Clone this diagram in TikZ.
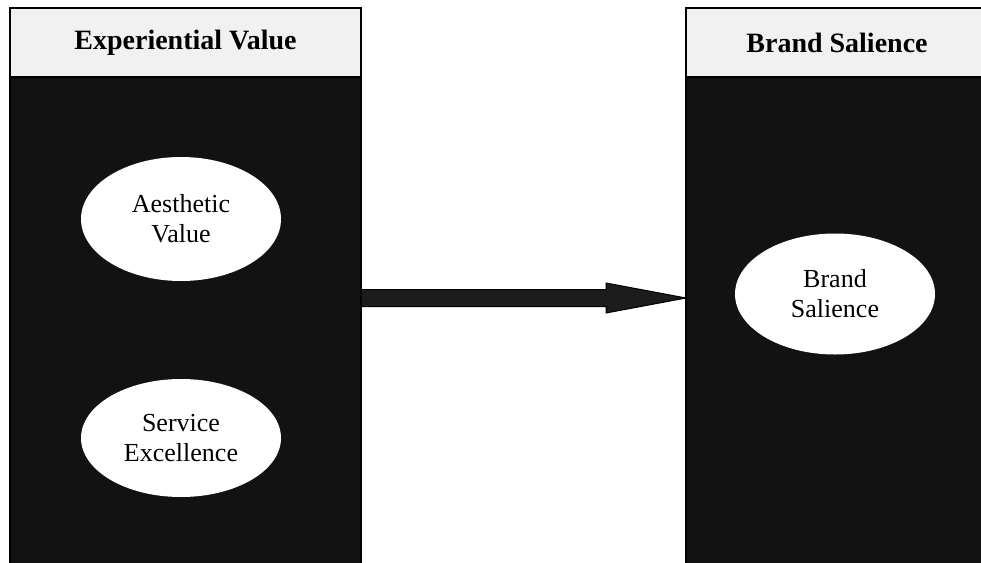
\documentclass[tikz,border=0pt]{standalone}
\usepackage{fontspec}
\setmainfont{Liberation Serif}
\usetikzlibrary{shapes.geometric,calc}
\definecolor{panel}{HTML}{121212}
\definecolor{headfill}{HTML}{F1F1F1}
\definecolor{shaft}{HTML}{1C1C1C}
\tikzset{
  headbox/.style={draw=black, line width=1.6pt, fill=headfill, rectangle,
    inner sep=0pt, outer sep=0pt, font=\fontsize{28}{30}\selectfont\bfseries},
  bodybox/.style={draw=black, line width=1.6pt, fill=panel, rectangle,
    inner sep=0pt, outer sep=0pt},
  construct/.style={ellipse, fill=white, draw=none, inner sep=0pt,
    minimum width=200pt, minimum height=121pt, align=center,
    font=\fontsize{26}{30}\selectfont},
  flow/.style={draw=black, line width=1pt, fill=shaft, line join=miter}
}
\begin{document}
\begin{tikzpicture}[x=1pt,y=1pt]
\useasboundingbox (0,0) rectangle (981,-562);
\begin{scope}
\clip (0,0) rectangle (981,-562);
% left panel: header and body
\node[bodybox, minimum width=351pt, minimum height=498pt] (leftbody) at (185.5,-326) {};
\node[headbox, minimum width=351pt, minimum height=69pt] (lefthead) at (185.5,-42.5) {Experiential Value};
% right panel: header and body
\node[bodybox, minimum width=302pt, minimum height=498pt] (rightbody) at (837,-326) {};
\node[headbox, minimum width=302pt, minimum height=69pt] (righthead) at (837,-42.5) {Brand Salience};
\end{scope}
% constructs
\node[construct, minimum height=124pt] (aest) at (181,-219) {Aesthetic\\Value};
\node[construct, minimum height=118pt] (serv) at (181,-438) {Service\\Excellence};
\node[construct] (brand) at (835,-294) {Brand\\Salience};
% block arrow from experiential value to brand salience
\coordinate (ay) at (0,-298);
\coordinate (s) at (leftbody.east |- ay);
\coordinate (t) at (rightbody.west |- ay);
\filldraw[flow] ($(s)+(0,8.5)$) -- ($(t)+(-80,8.5)$) -- ($(t)+(-80,15)$)
  -- (t) -- ($(t)+(-80,-15)$) -- ($(t)+(-80,-8.5)$) -- ($(s)+(0,-8.5)$) -- cycle;
\end{tikzpicture}
\end{document}
